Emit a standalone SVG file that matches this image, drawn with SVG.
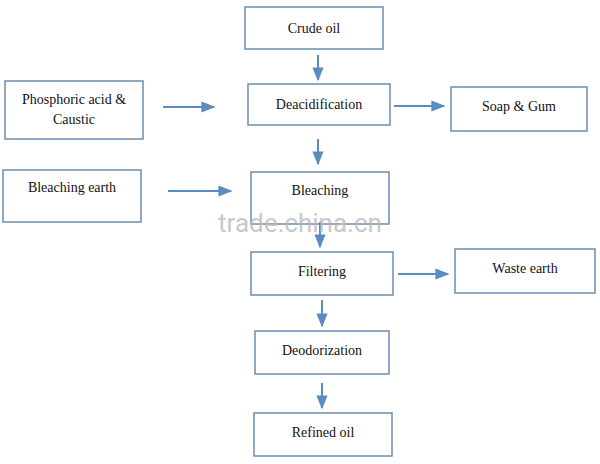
<svg xmlns="http://www.w3.org/2000/svg" width="600" height="464" viewBox="0 0 600 464">
<defs>
<marker id="ah" viewBox="0 0 10 10" refX="9" refY="5" markerWidth="7" markerHeight="7" orient="auto"><path d="M0,1 L10,5 L0,9 Z" fill="#5b8cbf"/></marker>
<style>
.b{fill:#fff;stroke:#6b8db3;stroke-width:1.5}
.t{font-family:"Liberation Serif",serif;font-size:14px;fill:#111;text-anchor:middle}
.c{stroke:#5b8cbf;stroke-width:2;fill:none;marker-end:url(#ah)}
</style>
</defs>
<rect width="600" height="464" fill="#fff"/>
<g id="crude"><rect class="b" x="245" y="7" width="138" height="42"/><text class="t" x="314" y="33">Crude oil</text></g>
<g id="phos"><rect class="b" x="5" y="81" width="138" height="58"/><text class="t" x="74" y="104">Phosphoric acid &amp;</text><text class="t" x="74" y="124">Caustic</text></g>
<g id="deacid"><rect class="b" x="248" y="84" width="142" height="41"/><text class="t" x="319" y="109">Deacidification</text></g>
<g id="soap"><rect class="b" x="451" y="87" width="136" height="44"/><text class="t" x="519" y="111">Soap &amp; Gum</text></g>
<g id="bearth"><rect class="b" x="3" y="170" width="138" height="52"/><text class="t" x="72" y="192">Bleaching earth</text></g>
<g id="bleach"><rect class="b" x="251" y="172" width="138" height="52"/><text class="t" x="320" y="195">Bleaching</text></g>
<g id="filter"><rect class="b" x="251" y="252" width="142" height="43"/><text class="t" x="322" y="276">Filtering</text></g>
<g id="waste"><rect class="b" x="455" y="249" width="140" height="44"/><text class="t" x="525" y="273">Waste earth</text></g>
<g id="deodor"><rect class="b" x="255" y="331" width="134" height="43"/><text class="t" x="322" y="355">Deodorization</text></g>
<g id="refined"><rect class="b" x="254" y="413" width="138" height="43"/><text class="t" x="323" y="437">Refined oil</text></g>
<g id="connectors">
<line class="c" x1="318" y1="55" x2="318" y2="80"/>
<line class="c" x1="163" y1="107" x2="214" y2="107"/>
<line class="c" x1="394" y1="106" x2="444" y2="106"/>
<line class="c" x1="318" y1="139" x2="318" y2="164"/>
<line class="c" x1="168" y1="191" x2="231" y2="191"/>
<line class="c" x1="320" y1="222" x2="320" y2="247"/>
<line class="c" x1="398" y1="274" x2="448" y2="274"/>
<line class="c" x1="322" y1="300" x2="322" y2="326"/>
<line class="c" x1="322" y1="383" x2="322" y2="408"/>
</g>
<text x="300" y="232" font-family="Roboto,sans-serif" font-size="26" fill="#bbb" opacity="0.8" text-anchor="middle">trade.china.cn</text>
</svg>
